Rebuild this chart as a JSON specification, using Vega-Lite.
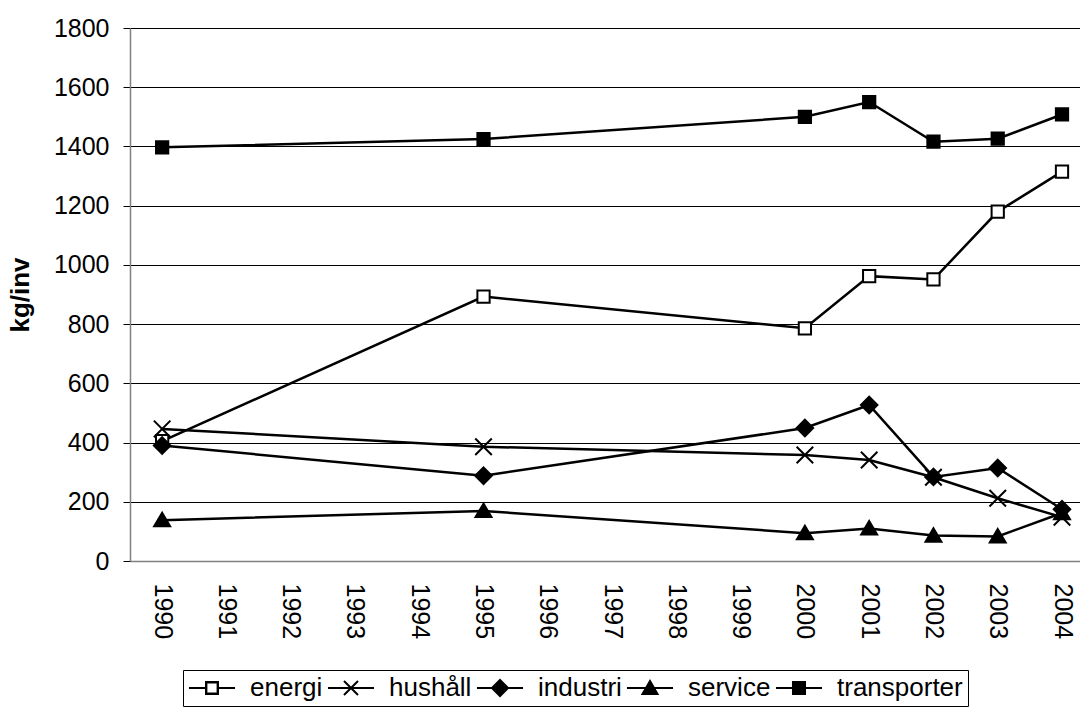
{
  "$schema": "https://vega.github.io/schema/vega-lite/v6.json",
  "width": 950,
  "height": 533,
  "autosize": {"type": "none"},
  "padding": {"left": 130, "top": 28, "right": 0, "bottom": 148},
  "background": "white",
  "config": {"view": {"stroke": null}, "font": "Liberation Sans"},
  "data": {
    "values": [
      {"year": 1990, "series": "energi", "value": 405},
      {"year": 1995, "series": "energi", "value": 893},
      {"year": 2000, "series": "energi", "value": 786},
      {"year": 2001, "series": "energi", "value": 962},
      {"year": 2002, "series": "energi", "value": 951},
      {"year": 2003, "series": "energi", "value": 1180},
      {"year": 2004, "series": "energi", "value": 1315},
      {"year": 1990, "series": "hushåll", "value": 446},
      {"year": 1995, "series": "hushåll", "value": 386},
      {"year": 2000, "series": "hushåll", "value": 358},
      {"year": 2001, "series": "hushåll", "value": 341},
      {"year": 2002, "series": "hushåll", "value": 283},
      {"year": 2003, "series": "hushåll", "value": 212},
      {"year": 2004, "series": "hushåll", "value": 148},
      {"year": 1990, "series": "industri", "value": 390},
      {"year": 1995, "series": "industri", "value": 288},
      {"year": 2000, "series": "industri", "value": 449},
      {"year": 2001, "series": "industri", "value": 527},
      {"year": 2002, "series": "industri", "value": 284},
      {"year": 2003, "series": "industri", "value": 314},
      {"year": 2004, "series": "industri", "value": 175},
      {"year": 1990, "series": "service", "value": 138},
      {"year": 1995, "series": "service", "value": 169},
      {"year": 2000, "series": "service", "value": 94},
      {"year": 2001, "series": "service", "value": 110},
      {"year": 2002, "series": "service", "value": 86},
      {"year": 2003, "series": "service", "value": 83},
      {"year": 2004, "series": "service", "value": 162},
      {"year": 1990, "series": "transporter", "value": 1397},
      {"year": 1995, "series": "transporter", "value": 1425},
      {"year": 2000, "series": "transporter", "value": 1500},
      {"year": 2001, "series": "transporter", "value": 1550},
      {"year": 2002, "series": "transporter", "value": 1416},
      {"year": 2003, "series": "transporter", "value": 1426},
      {"year": 2004, "series": "transporter", "value": 1508}
    ]
  },
  "encoding": {
    "x": {
      "field": "year",
      "type": "quantitative",
      "scale": {"domain": [1989.5, 2004.28], "nice": false, "zero": false},
      "axis": {
        "title": null,
        "values": [1990, 1991, 1992, 1993, 1994, 1995, 1996, 1997, 1998, 1999, 2000, 2001, 2002, 2003, 2004],
        "format": "d",
        "labelAngle": 90,
        "labelFontSize": 25,
        "labelFont": "Liberation Sans",
        "labelColor": "black",
        "labelPadding": 22,
        "ticks": false,
        "tickSize": 0,
        "grid": false,
        "domainColor": "#808080",
        "domainWidth": 1.5,
        "labelOverlap": false,
        "labelFlush": false
      }
    },
    "y": {
      "field": "value",
      "type": "quantitative",
      "scale": {"domain": [0, 1800], "nice": false},
      "axis": {
        "title": "kg/inv",
        "titleFont": "Liberation Sans",
        "titleFontSize": 26,
        "titleFontWeight": "bold",
        "titleColor": "black",
        "titlePadding": 20,
        "values": [0, 200, 400, 600, 800, 1000, 1200, 1400, 1600, 1800],
        "format": "d",
        "labelFontSize": 25,
        "labelFont": "Liberation Sans",
        "labelColor": "black",
        "labelPadding": 14,
        "tickSize": 7,
        "tickColor": "black",
        "grid": true,
        "gridColor": "black",
        "gridWidth": 1,
        "domainColor": "#808080",
        "domainWidth": 1.5,
        "labelFlush": false
      }
    }
  },
  "resolve": {"scale": {"shape": "independent"}, "legend": {"shape": "independent"}},
  "layer": [
    {
      "mark": {"type": "line", "color": "black", "strokeWidth": 2.5},
      "encoding": {"detail": {"field": "series", "type": "nominal"}}
    },
    {
      "mark": {"type": "point", "filled": true, "size": 150, "stroke": "black", "strokeWidth": 2, "opacity": 1},
      "encoding": {
        "fill": {
          "field": "series",
          "type": "nominal",
          "scale": {
            "domain": ["energi", "hushåll", "industri", "service", "transporter"],
            "range": ["white", "transparent", "black", "black", "black"]
          },
          "legend": null
        },
        "shape": {
          "field": "series",
          "type": "nominal",
          "scale": {
            "domain": ["energi", "hushåll", "industri", "service", "transporter"],
            "range": [
              "square",
              "M-1.35,-1.35L1.35,1.35M-1.35,1.35L1.35,-1.35",
              "M0,-1.35L1.35,0L0,1.35L-1.35,0Z",
              "M0,-1.2L1.3,1L-1.3,1Z",
              "square"
            ]
          },
          "legend": null
        }
      }
    },
    {
      "mark": {"type": "point", "filled": true, "size": 0, "stroke": "black", "strokeWidth": 2, "opacity": 1},
      "encoding": {
        "fill": {
          "field": "series",
          "type": "nominal",
          "scale": {
            "domain": ["energi", "hushåll", "industri", "service", "transporter"],
            "range": ["white", "transparent", "black", "black", "black"]
          },
          "legend": null
        },
        "shape": {
          "field": "series",
          "type": "nominal",
          "scale": {
            "domain": ["energi", "hushåll", "industri", "service", "transporter"],
            "range": [
              "M-3.29,0H-0.86M0.86,0H3.29M-0.857,-0.857H0.857V0.857H-0.857ZM-0.8,-0.8V0.8H0.8V-0.8Z",
              "M-3.29,0H3.29M-1,-1L1,1M-1,1L1,-1",
              "M-3.29,0H3.29M0,-1.15L1.15,0L0,1.15L-1.15,0Z",
              "M-3.29,0H3.29M0,-1L1.07,0.86L-1.07,0.86Z",
              "M-3.29,0H3.29M-0.86,-0.86H0.86V0.86H-0.86Z"
            ]
          },
          "legend": {
            "orient": "none",
            "legendX": 53,
            "legendY": 642,
            "direction": "horizontal",
            "title": null,
            "padding": 5,
            "strokeColor": "black",
            "fillColor": "white",
            "labelFont": "Liberation Sans",
            "labelFontSize": 26,
            "labelColor": "black",
            "labelOffset": 25,
            "symbolOffset": 11,
            "columnPadding": 0,
            "symbolSize": 196,
            "symbolStrokeWidth": 2
          }
        }
      }
    }
  ]
}
